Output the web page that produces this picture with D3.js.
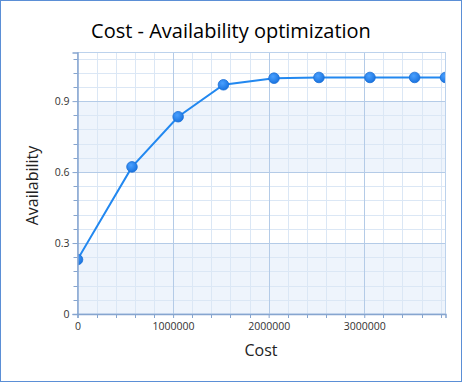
<!DOCTYPE html>
<html><head><meta charset="utf-8">
<script src="https://cdn.jsdelivr.net/npm/d3@7"></script>
<style>body{margin:0;background:#fff}svg{display:block}</style>
</head><body>
<svg id="c" width="463" height="383"></svg>
<script>
const costs = [0, 570000, 1053000, 1527000, 2056000, 2526000, 3060000, 3527000, 3850000];
const availability = [0.23, 0.622, 0.834, 0.969, 0.997, 1.0, 1.0, 1.0, 1.0];
const xTickValues = [0, 1000000, 2000000, 3000000];
const xTickLabels = ["0", "1000000", "2000000", "3000000"];
const yTickValues = [0, 0.3, 0.6, 0.9];
const yTickLabels = ["0", "0.3", "0.6", "0.9"];
const bands = [[0, 0.3], [0.6, 0.9]];
const title = "Cost - Availability optimization";
const xTitle = "Cost";
const yTitle = "Availability";

const svg = d3.select("#c");
const L = 77.5, R = 445.5, T = 52.5, B = 314;
const x = d3.scaleLinear().domain([0, 3850000]).range([L, R]);
const y = d3.scaleLinear().domain([0, 1.1055]).range([B, T]);
const font = "'Open Sans', 'Noto Sans', sans-serif";

svg.append("rect").attr("x",0.5).attr("y",0.5).attr("width",461).attr("height",381)
  .attr("fill","#fff").attr("stroke","#5b8fd6").attr("stroke-width",1);

svg.append("text").attr("x",231).attr("y",38).attr("text-anchor","middle")
  .attr("font-family",font).attr("font-size",20).attr("fill","#000").text(title);

const defs = svg.append("defs");
defs.append("clipPath").attr("id","clip").append("rect")
  .attr("x",L).attr("y",T).attr("width",R-L).attr("height",B-T);
const g = defs.append("radialGradient").attr("id","pg").attr("cx","40%").attr("cy","35%").attr("r","65%");
g.append("stop").attr("offset","0%").attr("stop-color","#4aa0ff");
g.append("stop").attr("offset","100%").attr("stop-color","#1a74e0");

const plot = svg.append("g").attr("clip-path","url(#clip)");
plot.selectAll("rect.band").data(bands).join("rect").attr("class","band")
  .attr("x",L).attr("width",R-L).attr("y",d=>y(d[1])).attr("height",d=>y(d[0])-y(d[1]))
  .attr("fill","#eef4fc");

const xMinor = d3.range(0, 3850001, 200000).filter(v=>!xTickValues.includes(v));
const yMinor = d3.range(0, 1.11, 0.06).map(v=>+v.toFixed(2)).filter(v=>!yTickValues.some(t=>Math.abs(t-v)<1e-6));

plot.selectAll("line.xm").data(xMinor).join("line").attr("class","xm")
  .attr("x1",d=>Math.round(x(d))+0.5).attr("x2",d=>Math.round(x(d))+0.5).attr("y1",T).attr("y2",B)
  .attr("stroke","#dbe7f5");
plot.selectAll("line.ym").data(yMinor).join("line").attr("class","ym")
  .attr("y1",d=>Math.round(y(d))+0.5).attr("y2",d=>Math.round(y(d))+0.5).attr("x1",L).attr("x2",R)
  .attr("stroke","#dbe7f5");
plot.selectAll("line.xM").data(xTickValues.slice(1)).join("line").attr("class","xM")
  .attr("x1",d=>Math.round(x(d))+0.5).attr("x2",d=>Math.round(x(d))+0.5).attr("y1",T).attr("y2",B)
  .attr("stroke","#b4cbe7");
plot.selectAll("line.yM").data(yTickValues.slice(1)).join("line").attr("class","yM")
  .attr("y1",d=>Math.round(y(d))+0.5).attr("y2",d=>Math.round(y(d))+0.5).attr("x1",L).attr("x2",R)
  .attr("stroke","#b4cbe7");

svg.append("rect").attr("x",L).attr("y",T).attr("width",R-L).attr("height",B-T)
  .attr("fill","none").attr("stroke","#bcd2ec");

const pts = costs.map((c,i)=>[c, availability[i]]);
plot.append("path").datum(pts).attr("fill","none").attr("stroke","#2288f0").attr("stroke-width",2)
  .attr("d", d3.line().x(d=>x(d[0])).y(d=>y(d[1])));
plot.selectAll("circle").data(pts).join("circle")
  .attr("cx",d=>x(d[0])).attr("cy",d=>y(d[1])).attr("r",5.3)
  .attr("fill","url(#pg)").attr("stroke","#1a6fd6").attr("stroke-width",0.8);

// axes
const axisColor = "#86a5cf";
const xAxis = svg.append("g").attr("transform",`translate(0,${B})`)
  .call(d3.axisBottom(x).tickValues(xTickValues).tickFormat((d,i)=>xTickLabels[i]).tickSizeOuter(0).tickSize(4));
const yAxis = svg.append("g").attr("transform",`translate(${L},0)`)
  .call(d3.axisLeft(y).tickValues(yTickValues).tickFormat((d,i)=>yTickLabels[i]).tickSizeOuter(0).tickSize(5));
// minor ticks
xAxis.selectAll("line.mt").data(xMinor).join("line").attr("class","mt")
  .attr("x1",d=>Math.round(x(d))+0.5).attr("x2",d=>Math.round(x(d))+0.5).attr("y1",0).attr("y2",4).attr("stroke",axisColor);
yAxis.selectAll("line.mt").data(yMinor).join("line").attr("class","mt")
  .attr("y1",d=>Math.round(y(d))+0.5).attr("y2",d=>Math.round(y(d))+0.5).attr("x1",-4).attr("x2",0).attr("stroke",axisColor);
[xAxis, yAxis].forEach(a=>{
  a.select(".domain").attr("stroke",axisColor).attr("stroke-width",1.5);
  a.selectAll(".tick line").attr("stroke",axisColor);
  a.selectAll(".tick text").attr("font-family",font).attr("font-size",10.5).attr("fill","#333");
});
xAxis.selectAll(".tick text").attr("dy","0.71em").attr("y",9);
yAxis.selectAll(".tick text").attr("x",-8);

svg.append("text").attr("x",261).attr("y",356).attr("text-anchor","middle")
  .attr("font-family",font).attr("font-size",16).attr("fill","#222").text(xTitle);
svg.append("text").attr("transform","translate(38,185.5) rotate(-90)").attr("text-anchor","middle")
  .attr("font-family",font).attr("font-size",16).attr("fill","#222").text(yTitle);
</script>
</body></html>
